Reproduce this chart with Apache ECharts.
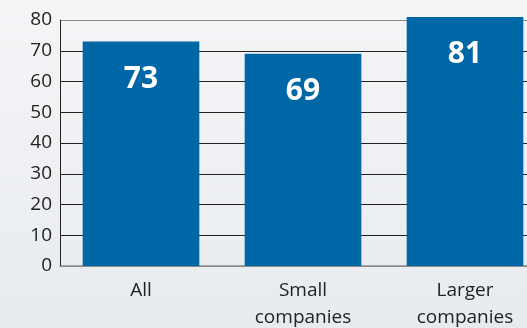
<!DOCTYPE html>
<html>
<head>
<meta charset="utf-8">
<script src="https://cdn.jsdelivr.net/npm/echarts@6/dist/echarts.min.js"></script>
<style>
  html, body { margin: 0; padding: 0; }
  body { background: linear-gradient(#f4f5f7, #e8ebee); }
  #chart { width: 527px; height: 328px; }
</style>
</head>
<body>
<div id="chart"></div>
<script>
'use strict';

// data
let categories = ['All', 'Small\ncompanies', 'Larger\ncompanies'];
let values = [73, 69, 81];
let yTicks = [0, 10, 20, 30, 40, 50, 60, 70, 80];

let myChart = echarts.init(document.getElementById('chart'));

// grid line colours: outer lines gray, inner lines dark
let lineColors = yTicks.map(function (v, i) {
    return (i === 0 || i === yTicks.length - 1) ? '#8a8a8a' : '#222';
});

myChart.setOption({
    backgroundColor: 'transparent',
    textStyle: { fontFamily: 'Open Sans' },
    grid: {
        left: 60,
        top: 20,
        width: 486,
        height: 246,
        containLabel: false,
        outerBoundsMode: 'none'
    },
    xAxis: {
        type: 'category',
        data: categories,
        axisLine: { lineStyle: { color: '#8a8a8a', width: 1.5 } },
        axisTick: { inside: true, length: 7, lineStyle: { color: '#555' } },
        axisLabel: {
            color: '#222',
            fontSize: 19,
            lineHeight: 27,
            margin: 11
        }
    },
    yAxis: {
        type: 'value',
        min: yTicks[0],
        max: yTicks[yTicks.length - 1],
        interval: 10,
        axisLine: { show: true, lineStyle: { color: '#222' } },
        axisTick: { show: false },
        axisLabel: { color: '#222', fontSize: 19, margin: 8 },
        splitLine: { lineStyle: { color: lineColors, width: 1 } }
    },
    series: [{
        type: 'bar',
        data: values,
        clip: false,
        barWidth: '72%',
        itemStyle: { color: '#0067a7' },
        label: {
            show: true,
            position: 'insideTop',
            distance: 23,
            color: '#fff',
            fontSize: 30,
            fontWeight: 'bold'
        }
    }]
});
</script>
</body>
</html>
